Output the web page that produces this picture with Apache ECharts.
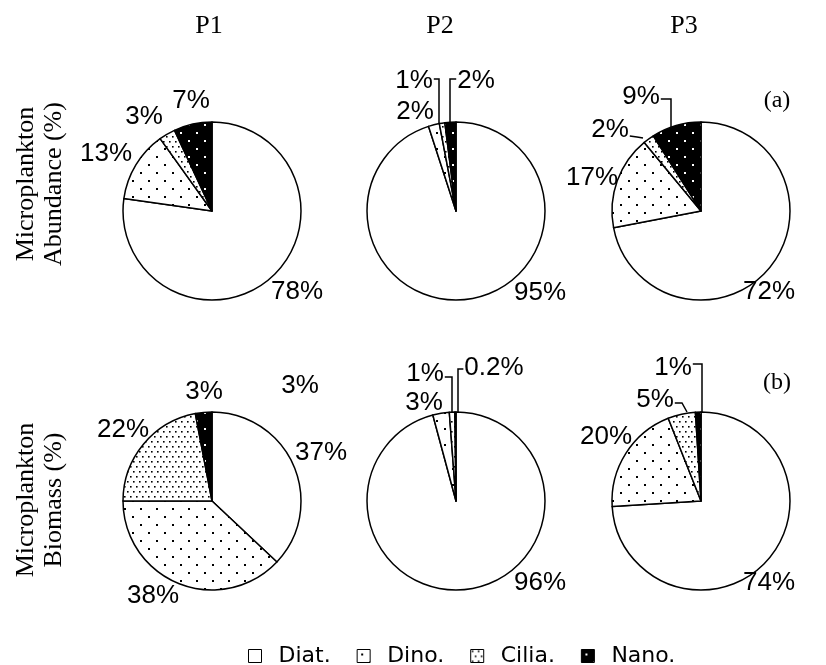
<!DOCTYPE html>
<html>
<head>
<meta charset="utf-8">
<script src="https://cdn.jsdelivr.net/npm/echarts@6/dist/echarts.min.js"></script>
<style>
  html, body { margin: 0; padding: 0; background: #fff; }
  #chart { width: 826px; height: 665px; }
</style>
</head>
<body>
<div id="chart"></div>
<script>
// Station names and plankton groups
const stations = ['P1', 'P2', 'P3'];
const groups = ['Diat.', 'Dino.', 'Cilia.', 'Nano.'];

// Relative abundance (%) per station, order: Diat, Dino, Cilia, Nano
const abundanceP1 = [78, 13, 3, 7];
const abundanceP2 = [95, 2, 1, 2];
const abundanceP3 = [72, 17, 2, 9];

// Relative biomass (%) per station
const biomassP1 = [37, 38, 22, 3];
const biomassP2 = [96, 3, 1, 0.2];
const biomassP3 = [74, 20, 5, 1];

const rowTitles = ['Microplankton\nAbundance (%)', 'Microplankton\nBiomass (%)'];
const panelTags = ['(a)', '(b)'];

// ---- layout ----
const colX = [212, 456, 701];
const rowY = [211, 501];
const R = 89;
const titleX = [209, 440, 684];

// Label anchors relative to each pie centre: dx, dy (text centre);
// lx = x of a bracket leader (relative), tip/mid = points of a short leader.
const spots = [
  [ // abundance
    [{dx: 85, dy: 81}, {dx: -106, dy: -57}, {dx: -68, dy: -94}, {dx: -21, dy: -110}],
    [{dx: 84, dy: 82}, {dx: -41, dy: -99}, {dx: -42, dy: -130, lx: -17, ly: -2}, {dx: 20, dy: -130, lx: -6, ly: -2}],
    [{dx: 68, dy: 81}, {dx: -109, dy: -33}, {dx: -91, dy: -81, tip: [-58, -73], mid: [-64, -74], ly: 6}, {dx: -60, dy: -114, lx: -30, ly: 2}]
  ],
  [ // biomass
    [{dx: 109, dy: -48}, {dx: -59, dy: 95}, {dx: -89, dy: -71}, {dx: -8, dy: -109}],
    [{dx: 84, dy: 82}, {dx: -32, dy: -98}, {dx: -31, dy: -127, lx: -4, ly: 3}, {dx: 38, dy: -133, lx: 2, ly: 1}],
    [{dx: 68, dy: 82}, {dx: -95, dy: -64}, {dx: -46, dy: -101, tip: [-14, -89], mid: [-19, -98], ly: 3}, {dx: -28, dy: -133, lx: 1, ly: -4}]
  ]
];

// Fill patterns drawn on small repeating tiles
function tile(w, h, bg, fg, dots, size) {
  const c = document.createElement('canvas');
  c.width = w; c.height = h;
  const g = c.getContext('2d');
  g.fillStyle = bg; g.fillRect(0, 0, w, h);
  g.fillStyle = fg;
  dots.forEach(d => g.fillRect(d[0], d[1], size, size));
  return { image: c, repeat: 'repeat' };
}
const fills = [
  '#ffffff',
  tile(16, 16, '#ffffff', '#000000', [[4, 4], [12, 12]], 2),
  tile(6, 10, '#ffffff', '#000000', [[1, 1], [4, 6]], 1.6),
  tile(16, 16, '#000000', '#ffffff', [[4, 4], [12, 12]], 2)
];

const tables = [
  [abundanceP1, abundanceP2, abundanceP3],
  [biomassP1, biomassP2, biomassP3]
];

const labelFont = "'Liberation Sans', Arial, sans-serif";
const serifFont = "'Liberation Serif', 'Times New Roman', serif";

const series = [];
tables.forEach((row, r) => {
  row.forEach((values, c) => {
    const cx = colX[c], cy = rowY[r];
    const sp = spots[r][c];
    series.push({
      type: 'pie',
      name: rowTitles[r] + ' ' + stations[c],
      center: [cx, cy],
      radius: R,
      startAngle: 90,
      clockwise: true,
      avoidLabelOverlap: false,
      animation: false,
      silent: true,
      emphasis: { disabled: true },
      itemStyle: { borderColor: '#000', borderWidth: 1.5 },
      label: {
        show: true,
        position: 'outside',
        formatter: p => p.value + '%',
        color: '#000',
        fontFamily: labelFont,
        fontSize: 26
      },
      labelLine: { show: false },
      data: values.map((v, i) => {
        const s = sp[i];
        const lead = s.lx != null || s.tip != null;
        return {
          name: groups[i],
          value: v,
          itemStyle: { color: fills[i] },
          labelLine: { show: lead, smooth: false, lineStyle: { color: '#000', width: 1.5 } }
        };
      }),
      labelLayout: function (p) {
        const s = sp[p.dataIndex];
        const x = cx + s.dx, y = cy + s.dy;
        const out = { x: x, y: y, align: 'center', verticalAlign: 'middle' };
        const w = p.labelRect.width;
        if (s.lx != null) {
          const lx = cx + s.lx;
          const ly = y + (s.ly || 0);
          const edge = lx > x ? x + w / 2 + 1 : x - w / 2 - 1;
          const top = cy - Math.sqrt(R * R - s.lx * s.lx);
          out.labelLinePoints = [[lx, top], [lx, ly], [edge, ly]];
        } else if (s.tip != null) {
          const ly = y + (s.ly || 0);
          out.labelLinePoints = [[cx + s.tip[0], cy + s.tip[1]], [cx + s.mid[0], cy + s.mid[1]], [x + w / 2 + 1, ly]];
        }
        return out;
      }
    });
  });
});

const graphic = [];
stations.forEach((s, i) => {
  graphic.push({
    type: 'text', x: titleX[i], y: 26, silent: true,
    style: { text: s, font: '26px ' + serifFont, fill: '#000', align: 'center', verticalAlign: 'middle' }
  });
});
rowTitles.forEach((t, i) => {
  graphic.push({
    type: 'text', x: 40, y: [184, 500][i], rotation: Math.PI / 2, silent: true,
    style: { text: t, font: '26px ' + serifFont, lineHeight: 28, fill: '#000', align: 'center', verticalAlign: 'middle' }
  });
});
panelTags.forEach((t, i) => {
  graphic.push({
    type: 'text', x: 777, y: [101, 383][i], silent: true,
    style: { text: t, font: '24px ' + serifFont, fill: '#000', align: 'center', verticalAlign: 'middle' }
  });
});
// extra annotation printed above the P1 biomass pie
graphic.push({
  type: 'text', x: 300, y: 386, silent: true,
  style: { text: '3%', font: '26px ' + labelFont, fill: '#000', align: 'center', verticalAlign: 'middle' }
});

const chart = echarts.init(document.getElementById('chart'), null, { renderer: 'canvas' });
chart.setOption({
  backgroundColor: '#ffffff',
  animation: false,
  legend: {
    data: groups,
    left: 243,
    top: 640,
    icon: 'rect',
    itemWidth: 13,
    itemHeight: 13,
    itemGap: 26,
    selectedMode: false,
    itemStyle: { borderColor: '#000', borderWidth: 1 },
    textStyle: { fontFamily: "'DejaVu Sans', sans-serif", fontSize: 22, color: '#000', padding: [0, 0, 0, 12] }
  },
  series: series,
  graphic: graphic
});
</script>
</body>
</html>
